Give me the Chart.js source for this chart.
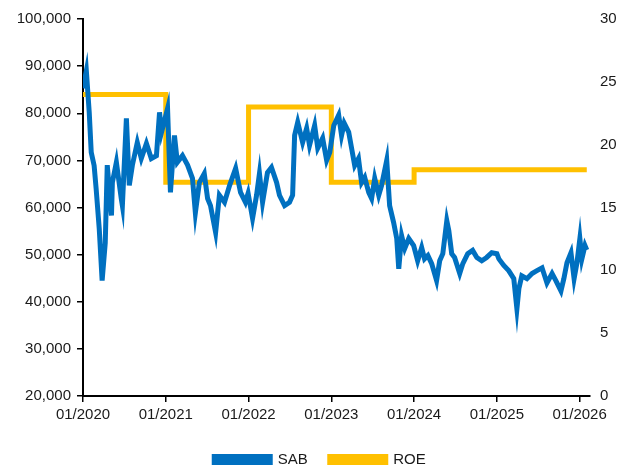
<!DOCTYPE html>
<html>
<head>
<meta charset="utf-8">
<script src="https://cdn.jsdelivr.net/npm/chart.js@4"></script>
<style>
  html, body { margin: 0; padding: 0; background: #fff; }
  #wrap { width: 622px; height: 473px; }
</style>
</head>
<body>
<div id="wrap"><canvas id="chart" width="622" height="473"></canvas></div>
<script>
// SAB share price (VND)
const sabDates = [
  '2020-01-01', '2020-01-16', '2020-01-29', '2020-02-07', '2020-02-20', '2020-02-29', '2020-03-12', '2020-03-25',
  '2020-04-08', '2020-04-17', '2020-05-05', '2020-05-09', '2020-05-27', '2020-06-18', '2020-06-23', '2020-07-10',
  '2020-07-23', '2020-08-06', '2020-08-28', '2020-09-15', '2020-10-07', '2020-10-29', '2020-11-21', '2020-12-04',
  '2020-12-13', '2021-01-09', '2021-01-22', '2021-02-09', '2021-02-22', '2021-03-14', '2021-04-06', '2021-04-28',
  '2021-05-10', '2021-05-28', '2021-06-19', '2021-07-03', '2021-07-16', '2021-08-08', '2021-08-25', '2021-09-17',
  '2021-10-09', '2021-11-05', '2021-11-27', '2021-12-18', '2021-12-30', '2022-01-19', '2022-02-06', '2022-02-19',
  '2022-03-02', '2022-03-24', '2022-04-11', '2022-05-03', '2022-05-16', '2022-06-08', '2022-06-30', '2022-07-13',
  '2022-07-22', '2022-08-05', '2022-08-27', '2022-09-14', '2022-09-27', '2022-10-19', '2022-11-02', '2022-11-24',
  '2022-12-11', '2022-12-25', '2023-01-12', '2023-02-03', '2023-02-16', '2023-02-28', '2023-03-17', '2023-03-30',
  '2023-04-13', '2023-04-30', '2023-05-13', '2023-05-27', '2023-06-14', '2023-06-27', '2023-07-10', '2023-07-28',
  '2023-08-10', '2023-09-02', '2023-09-15', '2023-10-02', '2023-10-16', '2023-10-25', '2023-11-07', '2023-11-21',
  '2023-12-08', '2023-12-30', '2024-01-17', '2024-02-04', '2024-02-17', '2024-03-01', '2024-03-18', '2024-04-09',
  '2024-04-23', '2024-05-06', '2024-05-24', '2024-06-02', '2024-06-15', '2024-06-28', '2024-07-20', '2024-08-03',
  '2024-08-25', '2024-09-16', '2024-10-04', '2024-10-26', '2024-11-17', '2024-12-09', '2025-01-01', '2025-01-10',
  '2025-02-01', '2025-02-23', '2025-03-15', '2025-03-29', '2025-04-07', '2025-04-20', '2025-05-12', '2025-06-04',
  '2025-06-26', '2025-07-18', '2025-08-09', '2025-09-01', '2025-09-18', '2025-10-10', '2025-10-23', '2025-11-06',
  '2025-11-24', '2025-12-07', '2025-12-20', '2026-01-02', '2026-01-11', '2026-01-25', '2026-02-02'
];
const sabValues = [
  85300, 89000, 80200, 71700, 68900, 64000, 55500, 44500,
  52500, 69000, 58300, 65300, 69600, 61900, 60400, 78900,
  64700, 69000, 73800, 70400, 73600, 70400, 71000, 80200,
  76000, 81000, 63200, 75300, 69600, 71000, 69000, 66200,
  58900, 65300, 67200, 61900, 60400, 54700, 62600, 61100,
  64700, 68300, 63200, 61100, 63000, 57700, 62600, 67200,
  61100, 67400, 68500, 65300, 62600, 60400, 61100, 62600,
  75300, 78100, 73800, 76800, 73200, 77400, 72600, 74700,
  70000, 71700, 77400, 79600, 75300, 77900, 76000, 72600,
  68900, 70400, 65300, 66400, 63200, 61900, 66200, 62600,
  64700, 70000, 60400, 56800, 53400, 47000, 54000, 51300,
  53400, 51900, 48700, 51500, 49100, 49800, 48100, 44500,
  48700, 50200, 57200, 55100, 50200, 49400, 46000, 48100,
  50200, 50900, 49400, 48700, 49400, 50400, 50200, 49100,
  47700, 46600, 44900, 38500, 42800, 45500, 44900, 46000,
  46600, 47200, 44000, 46000, 44500, 42300, 44900, 48300,
  50400, 44900, 48300, 53400, 49100, 51900, 51000
];

// ROE (%), stepped yearly
const roeDates = ['2020-01-01', '2021-01-01', '2022-01-01', '2023-01-01', '2024-01-01', '2026-02-02'];
const roeValues = [24, 17, 23, 17, 18, 18];

const xTickYears = [2020, 2021, 2022, 2023, 2024, 2025, 2026];

// months since 01/2020
function toMonths(s) {
  const [y, m, d] = s.split('-').map(Number);
  return (y - 2020) * 12 + (m - 1) + (d - 1) / 31;
}

const sabPoints = sabDates.map((d, i) => ({ x: toMonths(d), y: sabValues[i] }));
const roePoints = roeDates.map((d, i) => ({ x: toMonths(d), y: roeValues[i] }));

const FONT = 'Arial, "Liberation Sans", sans-serif';
Chart.defaults.font.family = FONT;
Chart.defaults.font.size = 15;
Chart.defaults.color = '#1a1a1a';

new Chart(document.getElementById('chart').getContext('2d'), {
  type: 'line',
  data: {
    datasets: [
      {
        label: 'SAB',
        data: sabPoints,
        borderColor: '#0070C0',
        backgroundColor: '#0070C0',
        borderWidth: 5,
        pointRadius: 0,
        tension: 0,
        yAxisID: 'y'
      },
      {
        label: 'ROE',
        data: roePoints,
        borderColor: '#FFC000',
        backgroundColor: '#FFC000',
        borderWidth: 5,
        pointRadius: 0,
        stepped: 'before',
        yAxisID: 'y1'
      }
    ]
  },
  options: {
    responsive: false,
    animation: false,
    layout: { padding: { top: 11, left: 18, right: 0, bottom: -4 } },
    plugins: {
      legend: {
        position: 'bottom',
        labels: {
          boxWidth: 56,
          boxHeight: 6,
          padding: 22,
          font: { size: 15 },
          color: '#1a1a1a'
        }
      },
      tooltip: { enabled: false }
    },
    scales: {
      x: {
        type: 'linear',
        min: 0,
        max: 73.5,
        afterBuildTicks: scale => {
          scale.ticks = xTickYears.map(y => ({ value: (y - 2020) * 12 }));
        },
        afterFit: scale => { scale.height = 34; },
        ticks: {
          callback: v => '01/' + (2020 + Math.round(v / 12)),
          maxRotation: 0,
          autoSkip: false,
          padding: 4
        },
        grid: { drawOnChartArea: false, drawTicks: true, tickLength: 6, color: '#000', lineWidth: 1.5 },
        border: { display: true, color: '#000', width: 2 }
      },
      y: {
        position: 'left',
        min: 20000,
        max: 100000,
        afterFit: scale => { scale.width = 65; },
        ticks: {
          stepSize: 10000,
          padding: 6,
          callback: v => v.toLocaleString('en-US')
        },
        grid: { drawOnChartArea: false, drawTicks: true, tickLength: 6, color: '#000', lineWidth: 1.5 },
        border: { display: true, color: '#000', width: 2 }
      },
      y1: {
        position: 'right',
        min: 0,
        max: 30,
        afterFit: scale => { scale.width = 32; },
        ticks: { stepSize: 5, padding: 10 },
        grid: { display: false, drawTicks: false },
        border: { display: false }
      }
    }
  }
});
</script>
</body>
</html>
